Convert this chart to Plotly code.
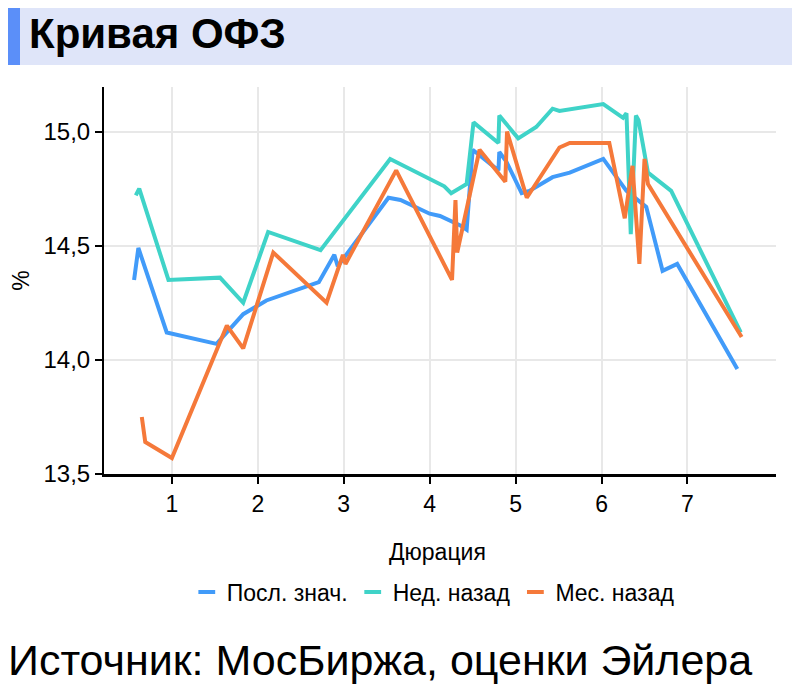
import plotly.graph_objects as go

# Посл. знач.
x_last = [0.56, 0.61, 0.94, 1.52, 1.83, 2.10, 2.71, 2.89, 2.93, 3.52, 3.66, 4.00, 4.12, 4.25, 4.35,
          4.43, 4.50, 4.80, 4.81, 4.89, 5.07, 5.16, 5.43, 5.63, 6.02, 6.29, 6.52, 6.71, 6.88, 7.58]
y_last = [14.35, 14.49, 14.12, 14.07, 14.20, 14.26, 14.34, 14.46, 14.41, 14.71, 14.70, 14.64, 14.63, 14.61, 14.59,
          14.57, 14.92, 14.83, 14.91, 14.87, 14.73, 14.74, 14.80, 14.82, 14.88, 14.74, 14.67, 14.39, 14.42, 13.96]

# Нед. назад
x_week = [0.58, 0.62, 0.96, 1.56, 1.83, 2.12, 2.73, 3.54, 4.17, 4.25, 4.43, 4.51, 4.80, 4.81, 5.03,
          5.24, 5.43, 5.51, 6.02, 6.25, 6.29, 6.34, 6.40, 6.43, 6.54, 6.81, 7.62]
y_week = [14.72, 14.75, 14.35, 14.36, 14.25, 14.56, 14.48, 14.88, 14.76, 14.73, 14.77, 15.04, 14.95, 15.07, 14.97,
          15.02, 15.10, 15.09, 15.12, 15.06, 15.08, 14.55, 15.07, 15.05, 14.82, 14.74, 14.12]

# Мес. назад
x_month = [0.65, 0.69, 1.00, 1.64, 1.83, 2.18, 2.80, 2.99, 3.02, 3.61, 4.26, 4.30, 4.32, 4.58, 4.88,
           4.90, 5.13, 5.51, 5.63, 6.09, 6.27, 6.36, 6.44, 6.50, 6.54, 7.63]
y_month = [13.75, 13.64, 13.57, 14.15, 14.05, 14.47, 14.25, 14.46, 14.42, 14.83, 14.35, 14.70, 14.47, 14.92, 14.78,
           15.00, 14.71, 14.93, 14.95, 14.95, 14.62, 14.85, 14.42, 14.88, 14.77, 14.10]

series = [
    ("Посл. знач.", x_last, y_last, "#419BF9"),
    ("Нед. назад", x_week, y_week, "#3FD3C8"),
    ("Мес. назад", x_month, y_month, "#F5793A"),
]

font = "Liberation Sans, Arial, sans-serif"

fig = go.Figure()
for name, xs, ys, col in series:
    fig.add_trace(go.Scatter(x=xs, y=ys, name=name, mode="lines", showlegend=False,
                             legendgroup=name, line=dict(color=col, width=4)))
# short dash legend keys
for name, xs, ys, col in series:
    fig.add_trace(go.Scatter(x=[None], y=[None], name=name, mode="markers", legendgroup=name,
                             marker=dict(symbol="line-ew", size=12, color=col,
                                         line=dict(color=col, width=4))))

# page body adds 8px offset, margins compensate
fig.update_layout(
    width=800, height=698,
    margin=dict(l=96, r=32, t=79, b=232, autoexpand=False),
    paper_bgcolor="white", plot_bgcolor="white",
    separators=", ",
    font=dict(family=font, size=23, color="black"),
    showlegend=True,
    legend=dict(orientation="h", x=0.49, xanchor="center", y=-0.305, yanchor="middle",
                font=dict(size=23), itemsizing="trace", itemwidth=30, tracegroupgap=0),
)

fig.update_xaxes(range=[0.21, 8.03], tickvals=[1, 2, 3, 4, 5, 6, 7],
                 showgrid=True, gridcolor="#e8e8e8", gridwidth=2,
                 showline=True, linecolor="black", linewidth=3,
                 ticks="outside", tickcolor="black", ticklen=7, tickwidth=2,
                 tickfont=dict(size=23), zeroline=False, automargin=False)
fig.update_yaxes(range=[13.5, 15.195], tickvals=[13.5, 14.0, 14.5, 15.0], tickformat=".1f",
                 showgrid=True, gridcolor="#e8e8e8", gridwidth=2,
                 showline=True, linecolor="black", linewidth=2,
                 ticks="outside", tickcolor="black", ticklen=7, tickwidth=2,
                 tickfont=dict(size=24), zeroline=False, automargin=False,
                 title=dict(text="%", standoff=20, font=dict(size=23)))

# title band
fig.add_shape(type="rect", xref="paper", yref="paper", x0=-0.1429, x1=1.0253, y0=1.0568, y1=1.21,
              fillcolor="#DFE5F9", line_width=0, layer="below")
fig.add_shape(type="rect", xref="paper", yref="paper", x0=-0.1429, x1=-0.125, y0=1.0568, y1=1.21,
              fillcolor="#5B8FF9", line_width=0, layer="below")
fig.add_annotation(text="<b>Кривая ОФЗ</b>", xref="paper", yref="paper", x=-0.114, y=1.1395,
                   xanchor="left", yanchor="middle", showarrow=False,
                   font=dict(size=42, color="black", family=font))
fig.add_annotation(text="Дюрация", xref="paper", yref="paper", x=0.497, y=-0.2016,
                   xanchor="center", yanchor="middle", showarrow=False, font=dict(size=23))
fig.add_annotation(text="Источник: МосБиржа, оценки Эйлера", xref="paper", yref="paper",
                   x=-0.1465, y=-0.4806, xanchor="left", yanchor="middle", showarrow=False,
                   font=dict(size=43, color="black", family=font))

fig.write_html("out.html")
